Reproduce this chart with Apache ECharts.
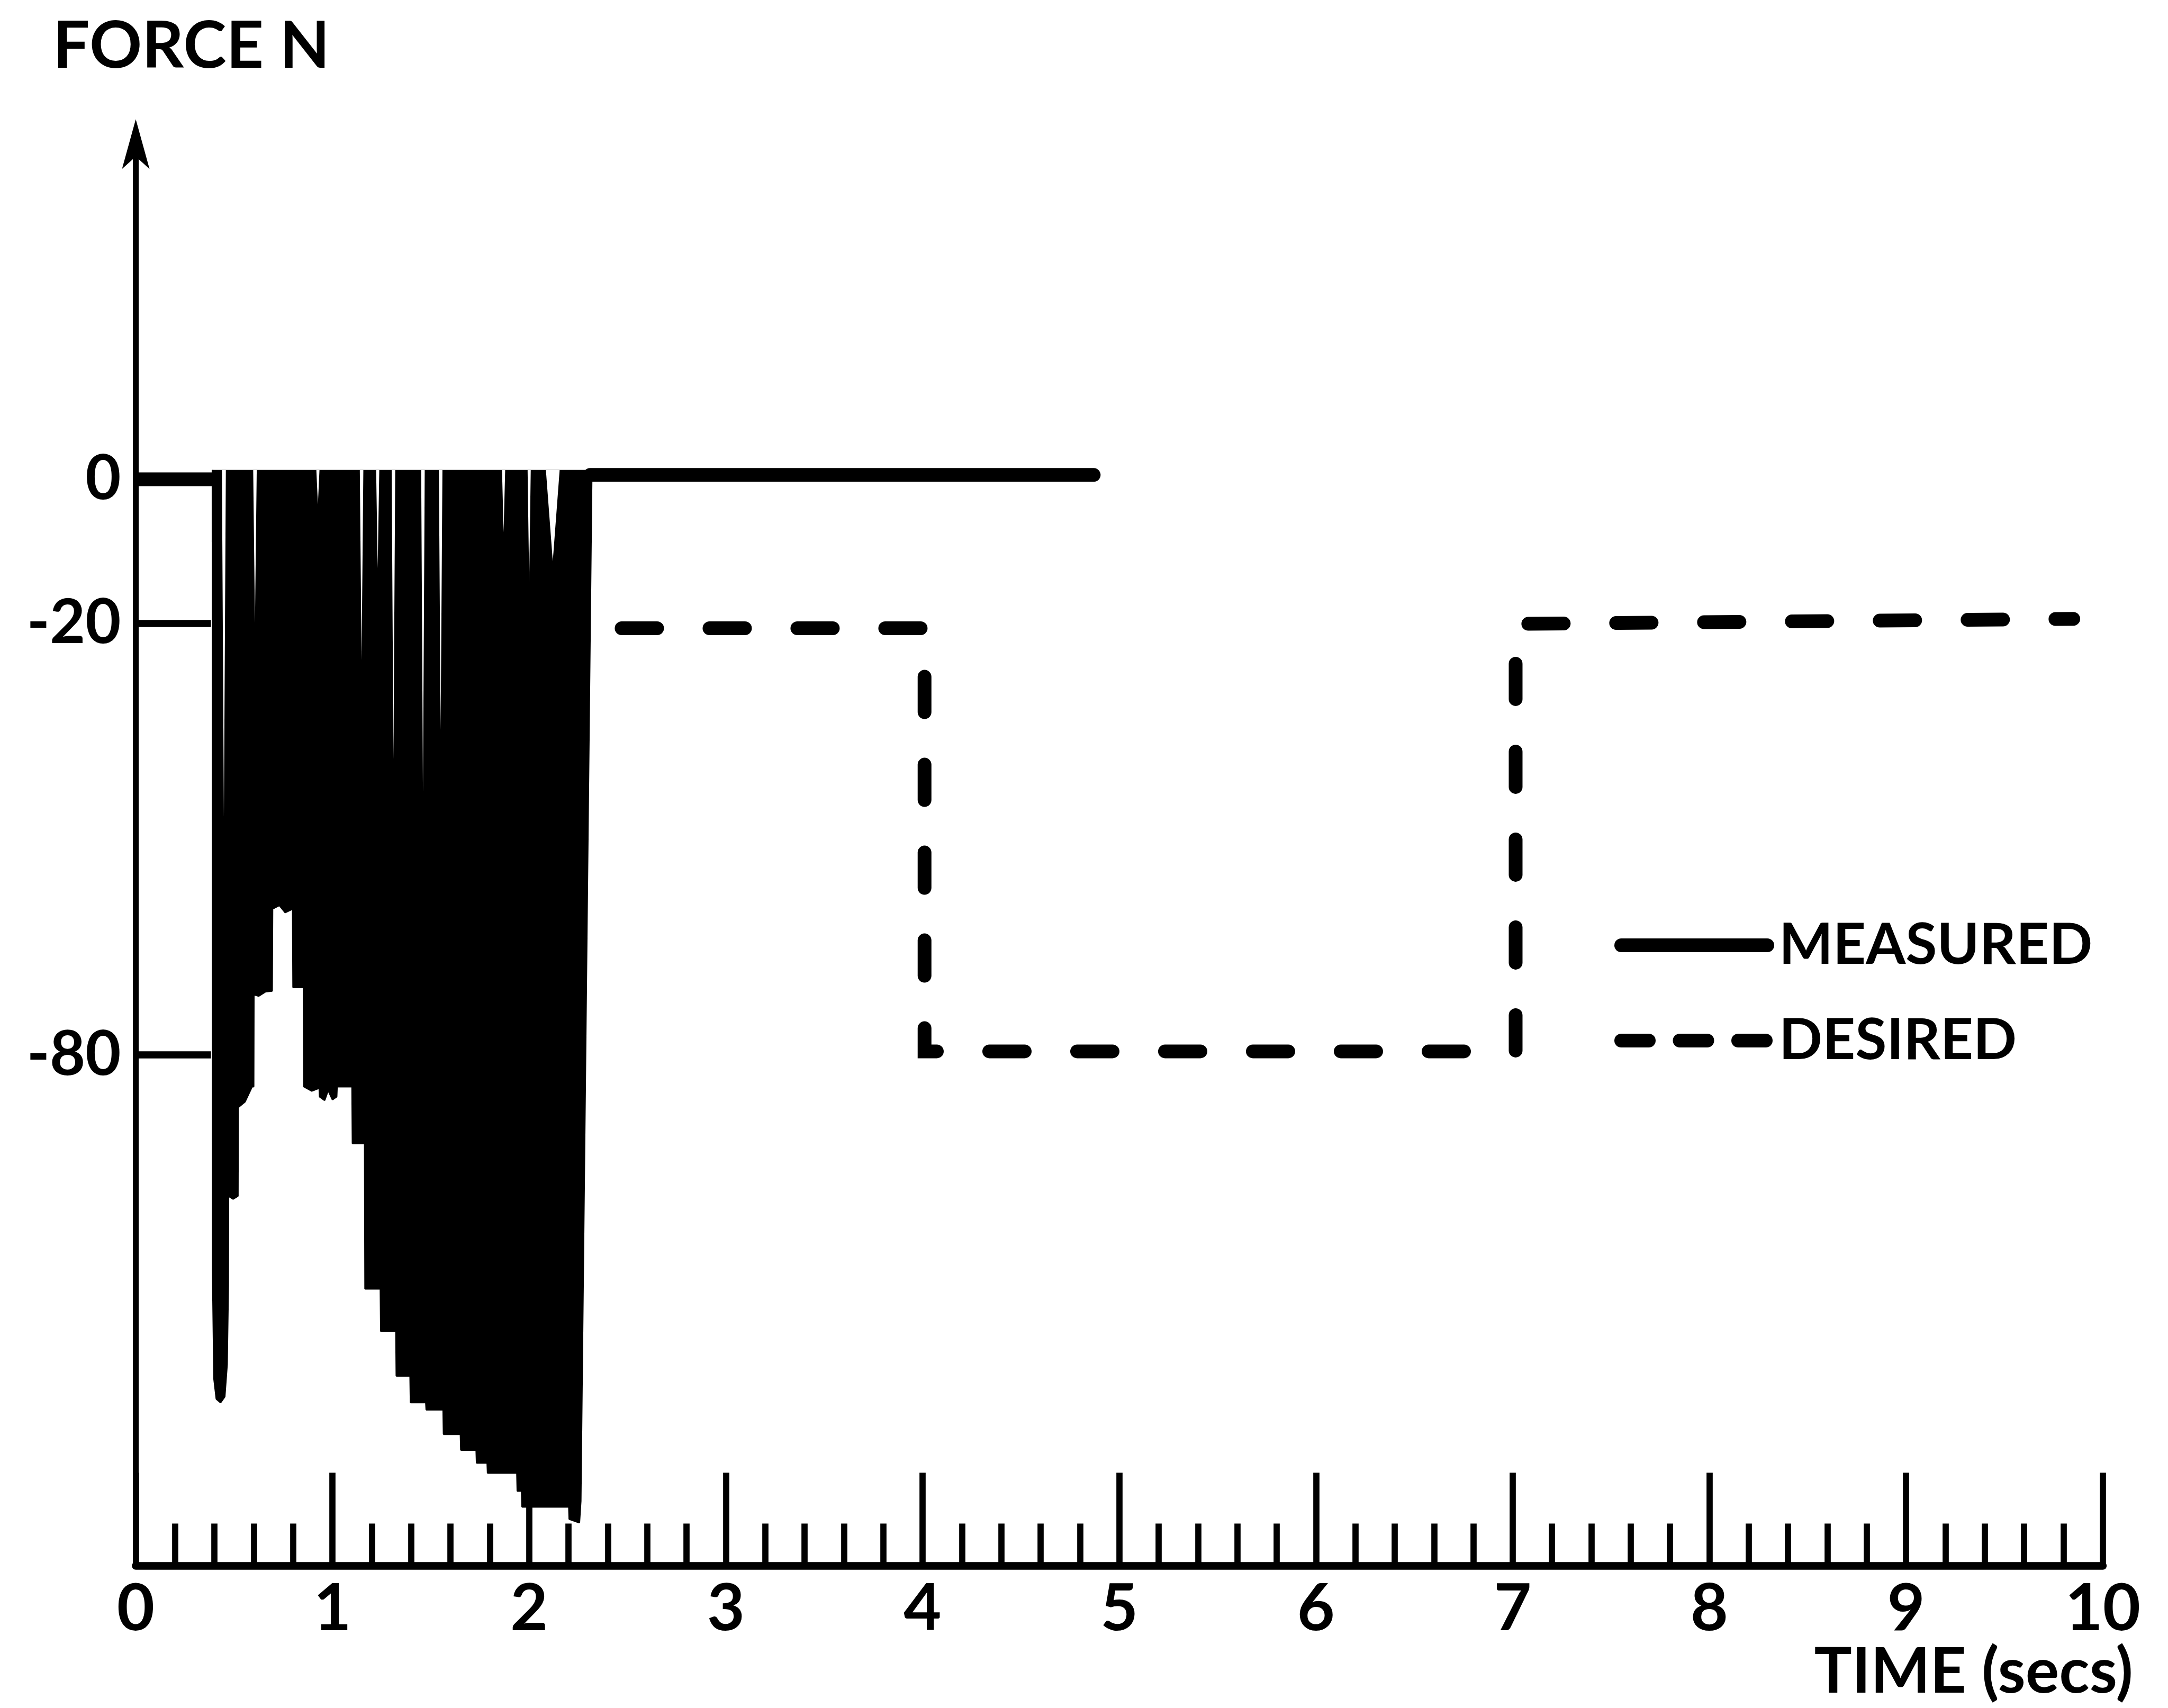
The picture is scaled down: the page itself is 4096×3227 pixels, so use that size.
<!DOCTYPE html>
<html><head><meta charset="utf-8">
<script src="https://cdn.jsdelivr.net/npm/echarts@6/dist/echarts.min.js"></script>
<style>html,body{margin:0;padding:0;background:#fff}#c{width:4096px;height:3227px}</style>
</head><body><div id="c"></div>
<script>
const FONT = "Lato,'DejaVu Sans Condensed',sans-serif";

// tick labels
const yTickValues = [0, -20, -80];

// top edge of the dense measured burst (force units)
const MASS_TOP = 1.3;

// MEASURED: quiet lead-in, dense burst (lower envelope), white gaps between strokes, quiet tail
const measuredLead = [[0, 0], [0.39, 0]];
const measuredBurst = [
  [0.390, 1.3], [0.391, -110], [0.398, -125], [0.410, -127.8], [0.431, -128.3], [0.452, -127.5],
  [0.464, -123], [0.470, -112], [0.471, -99.6], [0.495, -100], [0.519, -99.6], [0.520, -87.3],
  [0.555, -86.5], [0.591, -84.4], [0.599, -84.4], [0.600, -71.6], [0.625, -71.8], [0.660, -71.2],
  [0.693, -71.1], [0.695, -59.7], [0.730, -59.2], [0.760, -60.2], [0.798, -59.7], [0.800, -70.6],
  [0.853, -70.6], [0.855, -84.4], [0.895, -85], [0.933, -84.6], [0.935, -85.8], [0.960, -86.3],
  [0.978, -84.9], [1.000, -86.2], [1.021, -85.8], [1.023, -84.4], [1.100, -84.4], [1.102, -92.3],
  [1.164, -92.3], [1.166, -112.5], [1.244, -112.5], [1.246, -118.4], [1.323, -118.4], [1.325, -124.6],
  [1.395, -124.6], [1.397, -128.3], [1.475, -128.3], [1.477, -129.3], [1.563, -129.3], [1.565, -132.7],
  [1.651, -132.7], [1.653, -134.9], [1.731, -134.9], [1.733, -136.7], [1.787, -136.7], [1.789, -138.1],
  [1.938, -138.1], [1.940, -140.6], [1.962, -140.6], [1.964, -142.8], [2.202, -142.8], [2.204, -144.5],
  [2.255, -145], [2.262, -142], [2.318, 1.3]
];
const measuredGaps = [
  [0.390, 1.3],
  [0.438, 1.3], [0.448, -46.9], [0.458, 1.3],
  [0.597, 1.3], [0.606, -20], [0.615, 1.3],
  [0.918, 1.3], [0.926, -3.5], [0.934, 1.3],
  [1.139, 1.3], [1.148, -25.2], [1.157, 1.3],
  [1.222, 1.3], [1.230, -12.4], [1.238, 1.3],
  [1.301, 1.3], [1.310, -39], [1.319, 1.3],
  [1.451, 1.3], [1.460, -43.5], [1.469, 1.3],
  [1.541, 1.3], [1.550, -35], [1.559, 1.3],
  [1.862, 1.3], [1.870, -7.4], [1.878, 1.3],
  [1.992, 1.3], [2.000, -14.3], [2.008, 1.3],
  [2.085, 1.3], [2.120, -11.4], [2.155, 1.3],
  [2.318, 1.3]
];
const measuredTail = [[2.31, 0.6], [4.87, 0.6]];

// DESIRED
const desired = [[2.47, -20.7], [4.01, -20.7], [4.01, -79.5], [7.015, -79.5], [7.015, -20.1], [9.85, -19.4]];

const txt = { fontFamily: FONT, fontWeight: 'bold', color: '#000' };

const chart = echarts.init(document.getElementById('c'), null, { renderer: 'canvas' });
chart.setOption({
  animation: false,
  backgroundColor: '#fff',
  color: ['#000'],
  title: {
    text: 'TIME (secs)', right: 66, top: 3100, padding: 0,
    textStyle: Object.assign({ fontSize: 119 }, txt)
  },
  grid: { left: 256.5, right: 123.2, top: 269.2, bottom: 268.5, containLabel: false, outerBoundsMode: 'none' },
  legend: {
    orient: 'vertical', left: 3050, top: 1714, padding: 0, itemGap: 36,
    itemWidth: 276, itemHeight: 26, selectedMode: false,
    textStyle: Object.assign({ fontSize: 108, lineHeight: 120, padding: [24, 0, 0, 17] }, txt),
    data: [
      { name: 'MEASURED', itemStyle: { color: '#000', opacity: 0 }, lineStyle: { width: 26, type: 'solid', cap: 'round', color: '#000' } },
      { name: 'DESIRED', itemStyle: { color: '#000', opacity: 0 }, lineStyle: { width: 26, type: [52, 58.5], cap: 'round', color: '#000' } }
    ]
  },
  xAxis: {
    type: 'value', min: 0, max: 10, interval: 1,
    axisLine: { show: true, onZero: false, lineStyle: { color: '#000', width: 14.7 } },
    axisTick: { show: true, inside: true, length: 176, lineStyle: { color: '#000', width: 11.7 } },
    minorTick: { show: true, splitNumber: 5, length: 80, lineStyle: { color: '#000', width: 11.7 } },
    axisLabel: Object.assign({ show: true, margin: 20, fontSize: 123 }, txt),
    splitLine: { show: false }, minorSplitLine: { show: false }
  },
  yAxis: {
    type: 'value', min: -151, max: 46.8,
    axisLine: { show: true, onZero: false, symbol: ['none', 'arrow'], symbolSize: [39, 94], symbolOffset: [0, 44],
      lineStyle: { color: '#000', width: 11 } },
    axisTick: { show: true, inside: true, length: 142, customValues: yTickValues, lineStyle: { color: '#000', width: 13.7 } },
    axisLabel: Object.assign({ show: true, customValues: yTickValues, margin: 28, fontSize: 116 }, txt),
    splitLine: { show: false },
    name: 'FORCE N', nameLocation: 'end', nameGap: 181,
    nameTextStyle: Object.assign({ fontSize: 123, align: 'center', verticalAlign: 'middle', padding: [0, 0, 0, 210] }, txt)
  },
  series: [
    { name: 'MEASURED', type: 'line', data: measuredLead, symbol: 'none', silent: true,
      itemStyle: { color: '#000' }, lineStyle: { color: '#000', width: 26, cap: 'butt' } },
    { name: 'MEASURED', type: 'line', data: measuredBurst, symbol: 'none', silent: true,
      itemStyle: { color: '#000' }, lineStyle: { color: '#000', width: 3 },
      areaStyle: { color: '#000', opacity: 1, origin: MASS_TOP } },
    { name: 'gaps', type: 'line', data: measuredGaps, symbol: 'none', silent: true,
      lineStyle: { width: 0, opacity: 0 }, areaStyle: { color: '#fff', opacity: 1, origin: MASS_TOP } },
    { name: 'MEASURED', type: 'line', data: measuredTail, symbol: 'none', silent: true,
      itemStyle: { color: '#000' }, lineStyle: { color: '#000', width: 26, cap: 'round' } },
    { name: 'DESIRED', type: 'line', data: desired, symbol: 'none', silent: true,
      itemStyle: { color: '#000' }, lineStyle: { color: '#000', width: 26, type: [67, 99], cap: 'round', join: 'miter' } }
  ]
});
</script></body></html>
